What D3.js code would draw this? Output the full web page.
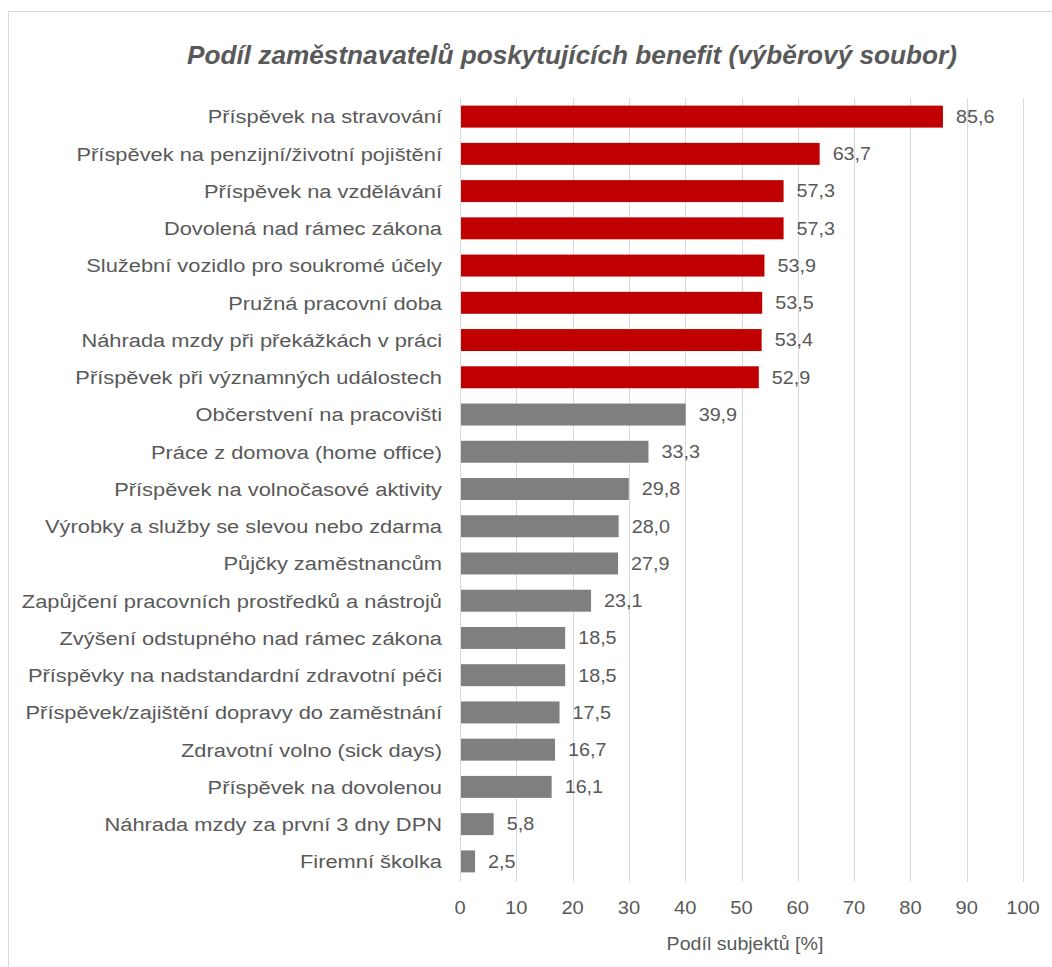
<!DOCTYPE html>
<html>
<head>
<meta charset="utf-8">
<script src="https://cdn.jsdelivr.net/npm/d3@7"></script>
<style>
  body { margin: 0; background: #fff; }
  svg { display: block; }
</style>
</head>
<body>
<div id="chart"></div>
<script>
// benefit names, top to bottom
var categories = [
  "Příspěvek na stravování",
  "Příspěvek na penzijní/životní pojištění",
  "Příspěvek na vzdělávání",
  "Dovolená nad rámec zákona",
  "Služební vozidlo pro soukromé účely",
  "Pružná pracovní doba",
  "Náhrada mzdy při překážkách v práci",
  "Příspěvek při významných událostech",
  "Občerstvení na pracovišti",
  "Práce z domova (home office)",
  "Příspěvek na volnočasové aktivity",
  "Výrobky a služby se slevou nebo zdarma",
  "Půjčky zaměstnancům",
  "Zapůjčení pracovních prostředků a nástrojů",
  "Zvýšení odstupného nad rámec zákona",
  "Příspěvky na nadstandardní zdravotní péči",
  "Příspěvek/zajištění dopravy do zaměstnání",
  "Zdravotní volno (sick days)",
  "Příspěvek na dovolenou",
  "Náhrada mzdy za první 3 dny DPN",
  "Firemní školka"
];
var values = [85.6, 63.7, 57.3, 57.3, 53.9, 53.5, 53.4, 52.9, 39.9, 33.3, 29.8, 28.0, 27.9, 23.1, 18.5, 18.5, 17.5, 16.7, 16.1, 5.8, 2.5];
var highlighted = 8; // first 8 bars are red
var xTicks = [0, 10, 20, 30, 40, 50, 60, 70, 80, 90, 100];

var width = 1052, height = 967;
var textCol = "#595959";
var fontFam = "'Liberation Sans', Arial, sans-serif";

// the source picture is a bit stretched sideways, so text gets a x-scale too
function place(px, py, sx) {
  return "translate(" + px + "," + py + ") scale(" + sx + ",1)";
}

var svg = d3.select("#chart").append("svg")
    .attr("width", width)
    .attr("height", height);

// outer chart frame (only left and top visible)
svg.append("path")
    .attr("d", "M8.5,967 V11.5 H1052")
    .attr("fill", "none")
    .attr("stroke", "#d9d9d9")
    .attr("stroke-width", 1);

var x = d3.scaleLinear().domain([0, 100]).range([460, 1023]);
var y = d3.scaleBand().domain(categories).range([98, 880]).paddingInner(0.41).paddingOuter(0.205);

// gridlines
svg.append("g").selectAll("line")
    .data(xTicks)
    .enter().append("line")
      .attr("x1", function(d) { return Math.round(x(d)) + 0.5; })
      .attr("x2", function(d) { return Math.round(x(d)) + 0.5; })
      .attr("y1", 98)
      .attr("y2", 882)
      .attr("stroke", "#d9d9d9")
      .attr("stroke-width", 1);

// bars
svg.append("g").selectAll("rect")
    .data(values)
    .enter().append("rect")
      .attr("x", x(0) + 1)
      .attr("y", function(d, i) { return y(categories[i]); })
      .attr("width", function(d) { return x(d) - x(0); })
      .attr("height", y.bandwidth())
      .attr("fill", function(d, i) { return i < highlighted ? "#c00000" : "#7f7f7f"; });

// value labels
svg.append("g").selectAll("text")
    .data(values)
    .enter().append("text")
      .attr("transform", function(d, i) { return place(x(d) + 14, y(categories[i]) + y.bandwidth() / 2, 1.13); })
      .attr("dy", "0.36em")
      .attr("font-family", fontFam)
      .attr("font-size", "17.5px")
      .attr("fill", textCol)
      .text(function(d) { return d.toFixed(1).replace(".", ","); });

// category labels
svg.append("g").selectAll("text")
    .data(categories)
    .enter().append("text")
      .attr("transform", function(d) { return place(442, y(d) + y.bandwidth() / 2, 1.15); })
      .attr("dy", "0.36em")
      .attr("text-anchor", "end")
      .attr("font-family", fontFam)
      .attr("font-size", "19px")
      .attr("fill", textCol)
      .text(function(d) { return d; });

// x axis tick labels
svg.append("g").selectAll("text")
    .data(xTicks)
    .enter().append("text")
      .attr("transform", function(d) { return place(x(d), 908, 1.15); })
      .attr("dy", "0.36em")
      .attr("text-anchor", "middle")
      .attr("font-family", fontFam)
      .attr("font-size", "17.5px")
      .attr("fill", textCol)
      .text(function(d) { return d; });

// axis title
svg.append("text")
    .attr("transform", place(745, 944, 1.12))
    .attr("dy", "0.36em")
    .attr("text-anchor", "middle")
    .attr("font-family", fontFam)
    .attr("font-size", "17.5px")
    .attr("fill", textCol)
    .text("Podíl subjektů [%]");

// chart title
svg.append("text")
    .attr("x", 572)
    .attr("y", 55)
    .attr("dy", "0.36em")
    .attr("text-anchor", "middle")
    .attr("font-family", fontFam)
    .attr("font-size", "25px")
    .attr("font-weight", "bold")
    .attr("font-style", "italic")
    .attr("fill", textCol)
    .attr("textLength", 770)
    .attr("lengthAdjust", "spacingAndGlyphs")
    .text("Podíl zaměstnavatelů poskytujících benefit (výběrový soubor)");
</script>
</body>
</html>
